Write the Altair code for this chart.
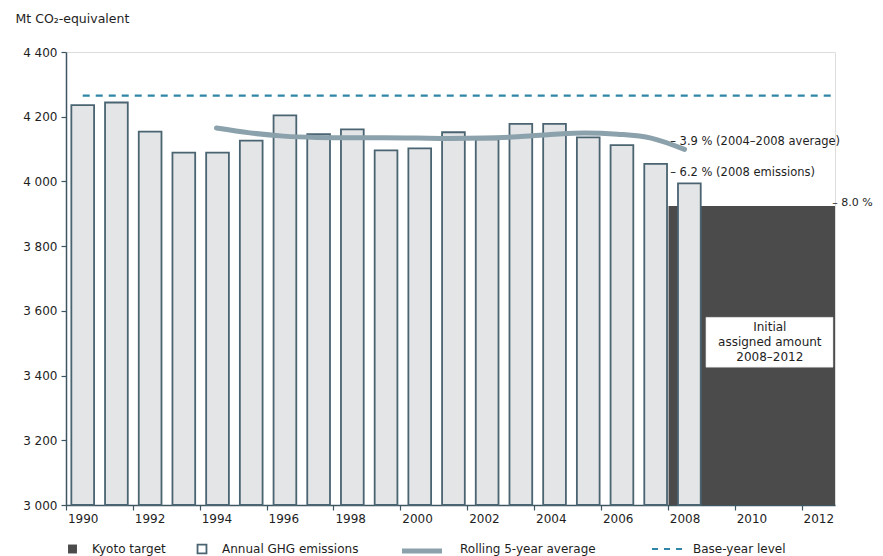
import altair as alt
import pandas as pd

# ---------------- data ----------------
years = list(range(1990, 2009))
emissions = [4236, 4244, 4154, 4089, 4089, 4126, 4204, 4146, 4161, 4096,
             4102, 4152, 4130, 4178, 4178, 4136, 4112, 4054, 3994]
avg_years = list(range(1994, 2009))
rolling_avg = [4165, 4150, 4140, 4136, 4135, 4135, 4134, 4133, 4134, 4138,
               4145, 4150, 4146, 4134, 4099]
base_year_level = 4265
kyoto_target = 3924
y_ticks = [3000, 3200, 3400, 3600, 3800, 4000, 4200, 4400]
x_ticks = [y - 0.5 for y in range(1990, 2014)]
annotation_labels = ["– 3.9 % (2004–2008 average)", "– 6.2 % (2008 emissions)"]
annotation_values = [4123, 4027]
target_label = "– 8.0 %"
target_label_value = 3933
box_lines = ["Initial", "assigned amount", "2008–2012"]
legend_labels = ["Kyoto target", "Annual GHG emissions", "Rolling 5-year average", "Base-year level"]
y_title = "Mt CO₂-equivalent"

FONT = "DejaVu Sans"
AXIS_COL = "#3e5661"
TXT = "#1e1e1e"

df_em = pd.DataFrame({"year": years, "value": emissions})
df_avg = pd.DataFrame({"year": avg_years, "value": rolling_avg})

x_scale = alt.Scale(domain=[1989.5, 2012.5], nice=False, zero=False)
y_scale = alt.Scale(domain=[3000, 4400], nice=False, zero=False)

x_axis = alt.Axis(
    values=x_ticks,
    labelExpr="(datum.value + 0.5) % 2 == 0 ? '' + (datum.value + 0.5) : ''",
    labelOffset=16.7, labelFlush=False, labelOverlap=False, labelBound=False,
    tickSize=5, labelPadding=3, grid=False, title=None,
    domainColor=AXIS_COL, tickColor=AXIS_COL, domainWidth=1.5, tickWidth=1.2,
    labelFont=FONT, labelFontSize=12, labelColor=TXT,
)
y_axis = alt.Axis(
    values=y_ticks,
    labelExpr="replace(format(datum.value, ','), ',', ' ')",
    tickSize=5, labelPadding=4, grid=False,
    domainColor=AXIS_COL, tickColor=AXIS_COL, domainWidth=1.5, tickWidth=1.2,
    labelFont=FONT, labelFontSize=12, labelColor=TXT,
    title=y_title, titleAngle=0, titleAlign="left", titleBaseline="middle",
    titleX=-51, titleY=-34, titleFont=FONT, titleFontSize=12.5,
    titleFontWeight="normal", titleColor=TXT,
)

one = pd.DataFrame({"k": [0]})

# Kyoto target block
kyoto = alt.Chart(pd.DataFrame({"v": [kyoto_target]})).mark_rect(
    color="#4b4b4b"
).encode(
    x=alt.datum(2007.52, scale=x_scale, axis=x_axis),
    x2=alt.datum(2012.5),
    y=alt.Y("v:Q", scale=y_scale, axis=y_axis),
    y2=alt.datum(3000),
)

bars = alt.Chart(df_em).transform_calculate(
    x0="datum.year - 0.34 + (datum.year - 1990) * 0.008",
    x1="datum.year + 0.34 + (datum.year - 1990) * 0.008",
).mark_bar(fill="#e3e5e7", stroke="#4a6472", strokeWidth=1.8).encode(
    x=alt.X("x0:Q", scale=x_scale, axis=x_axis),
    x2="x1:Q",
    y=alt.Y("value:Q", scale=y_scale, axis=y_axis),
    y2=alt.datum(3000),
)

base_rule = alt.Chart(pd.DataFrame({"v": [base_year_level]})).mark_rule(
    color="#2f86a6", strokeWidth=2.2, strokeDash=[7, 6]
).encode(
    x=alt.datum(1990), x2=alt.datum(2012.5), y=alt.Y("v:Q", scale=y_scale)
)

avg_line = alt.Chart(df_avg).mark_line(
    color="#8ba1ab", strokeWidth=5, interpolate="monotone", strokeCap="round"
).encode(
    x=alt.X("year:Q", scale=x_scale), y=alt.Y("value:Q", scale=y_scale)
)

white_box = alt.Chart(one).mark_rect(fill="white", stroke="#dddddd", strokeWidth=0.5).encode(
    x=alt.datum(2008.64), x2=alt.datum(2012.44),
    y=alt.datum(3426), y2=alt.datum(3580),
)

box_text = alt.Chart(one).mark_text(
    text=box_lines, font=FONT, fontSize=12, color=TXT, lineHeight=15,
    align="center", baseline="middle"
).encode(x=alt.datum(2010.55), y=alt.datum(3549))

ann = alt.Chart(pd.DataFrame({"label": annotation_labels, "value": annotation_values,
                              "xpos": [2007.57, 2007.57]})).mark_text(
    font=FONT, fontSize=11.5, color=TXT, align="left", baseline="middle"
).encode(
    x=alt.X("xpos:Q", scale=x_scale), y=alt.Y("value:Q", scale=y_scale), text="label:N"
)

ann_target = alt.Chart(pd.DataFrame({"label": [target_label], "value": [target_label_value]})).mark_text(
    font=FONT, fontSize=11, color=TXT, align="left", baseline="middle"
).encode(
    x=alt.datum(2012.42), y=alt.Y("value:Q", scale=y_scale), text="label:N"
)

# ------------- legend (drawn below the plot) -------------
LY = 497
leg = []
leg.append(alt.Chart(one).mark_square(size=80, color="#4b4b4b", opacity=1).encode(
    x=alt.value(6.5), y=alt.value(LY)))
leg.append(alt.Chart(one).mark_square(size=80, fill="white", stroke="#4a6472",
                                        strokeWidth=1.8, opacity=1, filled=False).encode(
    x=alt.value(136), y=alt.value(LY)))
leg.append(alt.Chart(one).mark_rule(color="#8ba1ab", strokeWidth=5).encode(
    x=alt.value(336), x2=alt.value(376), y=alt.value(LY + 2)))
leg.append(alt.Chart(one).mark_rule(color="#2f86a6", strokeWidth=2.2, strokeDash=[6, 6]).encode(
    x=alt.value(586), x2=alt.value(618), y=alt.value(LY)))
for lx, lab in zip([26, 156, 394, 627], legend_labels):
    leg.append(alt.Chart(one).mark_text(
        text=lab, font=FONT, fontSize=12, color=TXT, align="left", baseline="middle"
    ).encode(x=alt.value(lx), y=alt.value(LY)))

chart = alt.layer(
    kyoto, bars, base_rule, avg_line, white_box, box_text, ann, ann_target, *leg
).properties(
    width=769, height=453,
    autosize=alt.AutoSizeParams(type="none"),
    padding={"left": 58, "top": 44, "right": 40, "bottom": 51},
).configure_view(stroke=None).configure(background="white")

chart.save("out.html", embed_options={"renderer": "svg", "actions": False})
